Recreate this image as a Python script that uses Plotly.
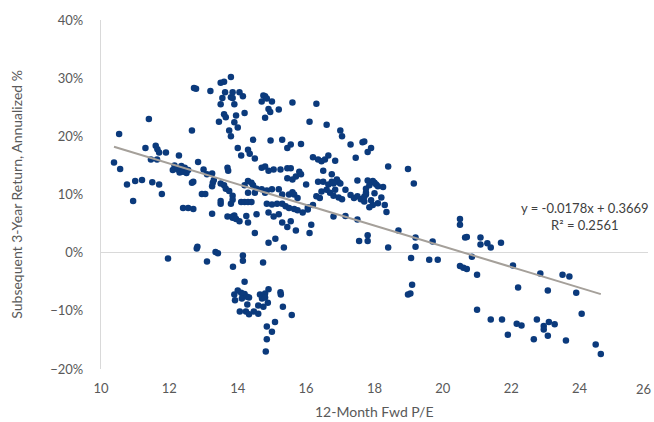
import plotly.graph_objects as go

# 12-month forward P/E and subsequent 3-year annualized return (%)
pe = [10.38,10.53,10.56,10.76,10.94,11.0,11.2,11.3,11.4,11.46,11.5,11.6,11.64,11.65,11.7,11.7,11.78,11.9,11.96,12.1,
      12.15,12.25,12.28,12.3,12.35,12.4,12.45,12.5,12.55,12.4,12.55,12.7,12.66,12.7,12.66,12.72,12.78,12.84,12.95,13.05,
      12.8,12.82,13.0,13.1,13.25,13.1,13.2,13.25,13.27,13.25,13.3,13.35,13.42,13.5,13.55,13.6,13.63,13.5,13.6,13.65,
      13.45,13.8,13.8,13.85,13.9,13.85,14.15,14.05,13.75,13.8,13.9,13.95,14.2,14.0,13.7,13.72,13.5,13.6,13.65,13.75,
      13.85,13.85,13.5,13.5,13.8,13.7,13.85,13.9,13.86,14.15,14.15,14.74,
      14.0,14.1,14.3,14.35,14.45,14.5,14.7,14.75,14.8,14.85,15.0,14.9,14.95,15.2,14.8,15.6,16.3,16.1,16.6,17.0,
      17.05,14.96,15.3,15.45,15.55,15.85,16.2,16.35,16.45,16.55,16.65,16.85,17.3,17.65,17.45,17.8,17.9,17.7,15.25,15.45,
      15.55,15.8,15.85,15.45,15.7,15.6,14.7,14.8,14.9,15.05,16.5,16.75,16.9,16.95,16.35,16.75,17.5,17.8,18.4,18.98,
      18.0,19.15,
      14.2,14.3,14.45,14.55,14.7,14.8,14.85,14.5,14.3,14.4,14.1,14.2,14.3,14.4,14.85,15.0,15.15,15.3,15.4,15.5,
      15.65,15.75,15.0,15.2,15.3,15.5,15.6,15.65,15.75,16.0,16.05,16.2,16.3,16.4,16.45,16.6,16.7,16.8,16.85,16.95,
      17.05,17.15,17.3,17.4,17.5,17.6,17.7,16.65,16.8,16.5,17.0,17.75,17.95,18.05,18.1,17.85,17.75,17.75,17.7,18.2,
      18.1,17.95,17.85,18.3,18.35,18.25,18.0,17.9,
      13.85,13.95,14.05,14.25,14.3,14.55,14.5,14.9,15.05,15.2,15.3,15.55,15.45,15.7,15.9,16.05,16.15,16.1,14.9,15.1,
      15.35,16.8,17.15,17.5,17.55,17.8,17.8,18.7,18.4,19.2,19.2,19.07,19.7,19.6,19.85,
      14.2,14.0,14.1,14.2,13.9,14.15,14.65,14.8,14.9,15.25,13.92,14.12,14.27,14.33,14.71,14.8,14.88,14.28,14.6,14.75,
      14.06,14.24,14.33,14.47,14.6,15.32,15.58,15.26,14.85,15.09,15.0,14.85,14.82,
      18.98,19.1,19.05,20.5,20.5,20.65,20.7,21.1,21.1,21.3,21.4,21.7,20.85,20.5,20.6,20.7,21.0,22.05,22.2,22.85,
      23.07,23.5,23.7,23.9,21.0,21.4,21.73,21.9,22.16,22.3,22.75,22.66,22.95,22.95,23.1,23.07,23.27,23.6,24.06,24.47,
      24.62]

ret_pct = [15.5,20.4,14.4,11.7,8.9,12.3,12.5,18.0,23.0,16.0,12.1,18.4,16.0,17.8,17.2,11.7,10.1,17.2,-1.0,14.2,
           15.0,14.3,16.7,13.8,14.9,13.9,14.6,13.7,14.2,7.7,7.7,7.5,12.0,12.2,21.0,28.3,28.2,15.6,10.1,10.1,
           0.7,1.0,14.3,13.5,13.6,-1.5,27.8,11.4,12.0,6.7,12.5,0.1,-0.1,29.2,26.6,29.4,27.6,25.5,23.8,23.3,
           22.5,30.2,26.7,26.6,25.5,27.6,26.9,27.6,21.0,20.0,22.4,23.6,24.0,21.5,14.6,14.1,11.9,11.6,11.0,10.6,
           9.8,9.1,8.4,8.9,8.4,6.2,6.2,6.4,-2.4,-0.5,-1.4,-1.7,
           18.0,16.7,17.7,17.0,19.4,16.2,26.0,27.0,26.9,26.5,26.0,24.7,24.2,24.6,23.2,25.8,25.6,22.5,22.0,21.0,
           20.0,19.3,19.4,18.0,18.6,18.7,16.4,16.0,15.7,16.0,16.7,15.8,18.6,19.0,16.3,17.3,18.0,19.1,14.3,14.5,
           14.5,13.9,13.5,12.8,13.1,12.6,14.6,14.8,14.1,14.3,14.1,13.5,12.6,12.1,12.2,12.2,12.4,12.4,14.8,14.4,
           12.0,11.9,
           11.6,12.3,11.6,11.0,10.9,10.3,10.7,10.3,10.3,12.0,8.7,8.7,8.7,8.7,8.4,8.3,8.4,8.4,8.0,7.7,
           7.5,7.3,10.9,10.9,10.0,10.0,10.4,10.0,9.4,11.7,7.8,8.2,9.7,9.4,10.5,10.8,10.3,9.8,10.8,9.5,
           9.2,10.8,9.9,9.4,9.7,9.2,8.8,11.7,11.9,12.2,11.9,11.0,12.3,11.7,11.4,11.6,10.3,10.0,9.6,9.5,
           8.5,8.2,7.8,8.2,7.0,11.3,10.2,9.0,
           6.0,5.8,5.4,6.3,5.2,6.6,3.4,6.9,6.2,6.6,5.2,5.4,4.4,3.8,6.9,7.4,4.8,3.4,1.7,2.4,
           0.9,6.2,6.3,5.7,2.0,3.0,2.0,3.8,0.9,2.6,1.0,-0.9,1.9,-1.2,-1.2,
           -5.0,-6.5,-6.9,-7.1,-7.2,-7.2,-7.2,-7.0,-6.3,-6.8,-8.2,-7.9,-7.6,-7.7,-7.9,-7.7,-8.6,-8.9,-9.1,-9.3,
           -10.1,-10.1,-10.6,-10.1,-10.5,-9.3,-10.7,-7.2,-12.7,-11.9,-13.6,-14.9,-17.0,
           -7.2,-5.5,-7.0,4.8,5.8,2.6,2.7,1.4,2.6,1.6,0.9,1.7,-0.7,-2.3,-2.6,-2.8,-3.8,-2.2,-6.0,-3.6,
           -6.5,-3.8,-4.1,-6.9,-9.8,-11.5,-11.5,-14.1,-12.2,-12.5,-11.5,-14.9,-12.6,-13.2,-11.9,-14.3,-12.3,-15.1,-10.5,-15.8,
           -17.4]

ret = [v / 100 for v in ret_pct]

# Linear trendline (as labeled on the chart)
slope = -0.0178
intercept = 0.3669
trend_x = [min(pe), max(pe)]
trend_y = [slope * x + intercept for x in trend_x]

x_ticks = [10, 12, 14, 16, 18, 20, 22, 24, 26]
y_ticks = [-0.2, -0.1, 0.0, 0.1, 0.2, 0.3, 0.4]

FONT = "Lato, 'Open Sans', sans-serif"
GREY_TXT = "#595959"

fig = go.Figure()
fig.add_trace(go.Scatter(
    x=pe, y=ret, mode="markers",
    marker=dict(color="#0B3A7C", size=6.5, line=dict(width=0)),
    showlegend=False, hoverinfo="skip", cliponaxis=False))
fig.add_trace(go.Scatter(
    x=trend_x, y=trend_y, mode="lines",
    line=dict(color="#A5A09A", width=2),
    showlegend=False, hoverinfo="skip"))

# the last x tick label sits at the very edge; draw it as an annotation nudged inward
last_tick = x_ticks[-1]

fig.update_layout(
    width=654, height=422,
    margin=dict(l=101, r=6, t=20, b=53, autoexpand=False),
    paper_bgcolor="white", plot_bgcolor="white",
    font=dict(family=FONT, size=13, color=GREY_TXT),
    xaxis=dict(range=[10, 26], tickvals=x_ticks[:-1], showgrid=False, zeroline=False,
               showline=False, ticks="", ticklabelstandoff=10, automargin=False,
               tickfont=dict(size=13, color=GREY_TXT)),
    yaxis=dict(range=[-0.2, 0.4], tickvals=y_ticks, tickformat=".0%", showgrid=False,
               zeroline=True, zerolinecolor="#D9D9D9", zerolinewidth=1.3,
               showline=True, linecolor="#D9D9D9", linewidth=1.3, ticks="",
               ticklabelstandoff=14, automargin=False,
               tickfont=dict(size=13, color=GREY_TXT)),
    annotations=[
        dict(text=str(last_tick), xref="x", yref="paper", x=last_tick, y=0,
             xanchor="right", yanchor="top", xshift=5, yshift=-10, showarrow=False,
             font=dict(size=13, color=GREY_TXT)),
        dict(text="12-Month Fwd P/E", xref="paper", yref="paper", x=0.5, y=-0.123,
             xanchor="center", yanchor="middle", showarrow=False,
             font=dict(size=14, color=GREY_TXT)),
        dict(text="Subsequent 3-Year Return, Annualized %", xref="paper", yref="paper",
             x=-0.155, y=0.5, xanchor="center", yanchor="middle", textangle=-90,
             showarrow=False, font=dict(size=14, color=GREY_TXT)),
        dict(text="y = -0.0178x + 0.3669<br>R² = 0.2561", xref="paper", yref="paper",
             x=0.885, y=0.438, xanchor="center", yanchor="middle", showarrow=False,
             align="center", font=dict(size=13, color="#404040")),
    ],
)

fig.write_html("out.html", config={"displayModeBar": False},
               post_script="document.body.style.margin='0';document.body.style.overflow='hidden';")
